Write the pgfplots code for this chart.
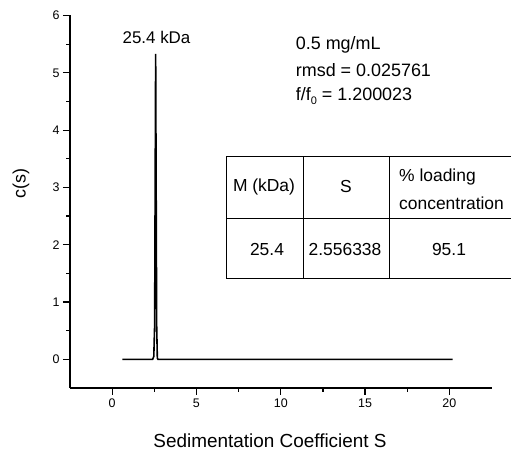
\documentclass[border=0pt]{standalone}
\usepackage{pgfplots}
\pgfplotsset{compat=1.18}
\usepackage{fontspec}
\setmainfont{Liberation Sans}

\begin{document}
\begin{tikzpicture}[x=1bp,y=1bp]
  \path[use as bounding box] (0,0) rectangle (511,464);
  \begin{axis}[
      at={(70bp,76bp)}, anchor=south west,
      scale only axis, width=421.5bp, height=372.5bp,
      xmin=-2.5, xmax=22.5, ymin=-0.5, ymax=6,
      axis x line*=bottom, axis y line*=left,
      axis line style={line width=1.6bp, -},
      xtick={0,5,...,20}, ytick={0,1,...,6},
      minor tick num=1,
      tick align=outside,
      major tick length=7bp, minor tick length=4bp,
      tick style={line width=1.2bp, black},
      tick label style={font=\fontsize{12.5}{14}\selectfont},
      /pgf/number format/assume math mode=true,
      xlabel={Sedimentation Coefficient S},
      ylabel={c(s)},
      every axis x label/.style={at={(axis description cs:0.4745,0)}, anchor=center, yshift=-53bp,
        font=\fontsize{19}{22}\selectfont},
      every axis y label/.style={at={(axis description cs:-0.116,0.55)}, rotate=90, anchor=center,
        font=\fontsize{18}{22}\selectfont},
      clip=false,
    ]
    % c(s) distribution
    \addplot[black, line width=1.6bp] coordinates {
      (0.6,0) (2.40,0) (2.47,0.05) (2.52,0.6) (2.58,5.33)
      (2.64,0.6) (2.68,0.02) (2.72,0) (20.2,0)
    };
    \node[font=\fontsize{17}{20}\selectfont] at (axis cs:2.63,5.62) {25.4 kDa};
    \node[anchor=west, font=\fontsize{18}{21}\selectfont] at (axis cs:10.69,5.48) {0.5 mg/mL};
    \node[anchor=west, font=\fontsize{18}{21}\selectfont] at (axis cs:10.69,5.04) {rmsd = 0.025761};
    \node[anchor=west, font=\fontsize{18}{21}\selectfont] at (axis cs:10.69,4.59)
      {f/f\raisebox{-0.45ex}{\fontsize{11}{12}\selectfont 0} = 1.200023};
  \end{axis}
  % results table
  \begin{scope}[line width=0.9bp]
    \draw (226,308) -- (520,308);
    \draw (226,246) -- (520,246);
    \draw (226,186) -- (520,186);
    \draw (226,186) -- (226,308);
    \draw (303,186) -- (303,308);
    \draw (389,186) -- (389,308);
  \end{scope}
  \begin{scope}[every node/.style={font=\fontsize{17.5}{20}\selectfont, inner sep=0pt}]
    \node at (264,277) {M (kDa)};
    \node at (346,277) {S};
    \node[anchor=west] at (399,287) {\% loading};
    \node[anchor=west] at (399,261) {concentration};
    \node at (267,214) {25.4};
    \node at (345,214) {2.556338};
    \node at (449,214) {95.1};
  \end{scope}
\end{tikzpicture}
\end{document}
